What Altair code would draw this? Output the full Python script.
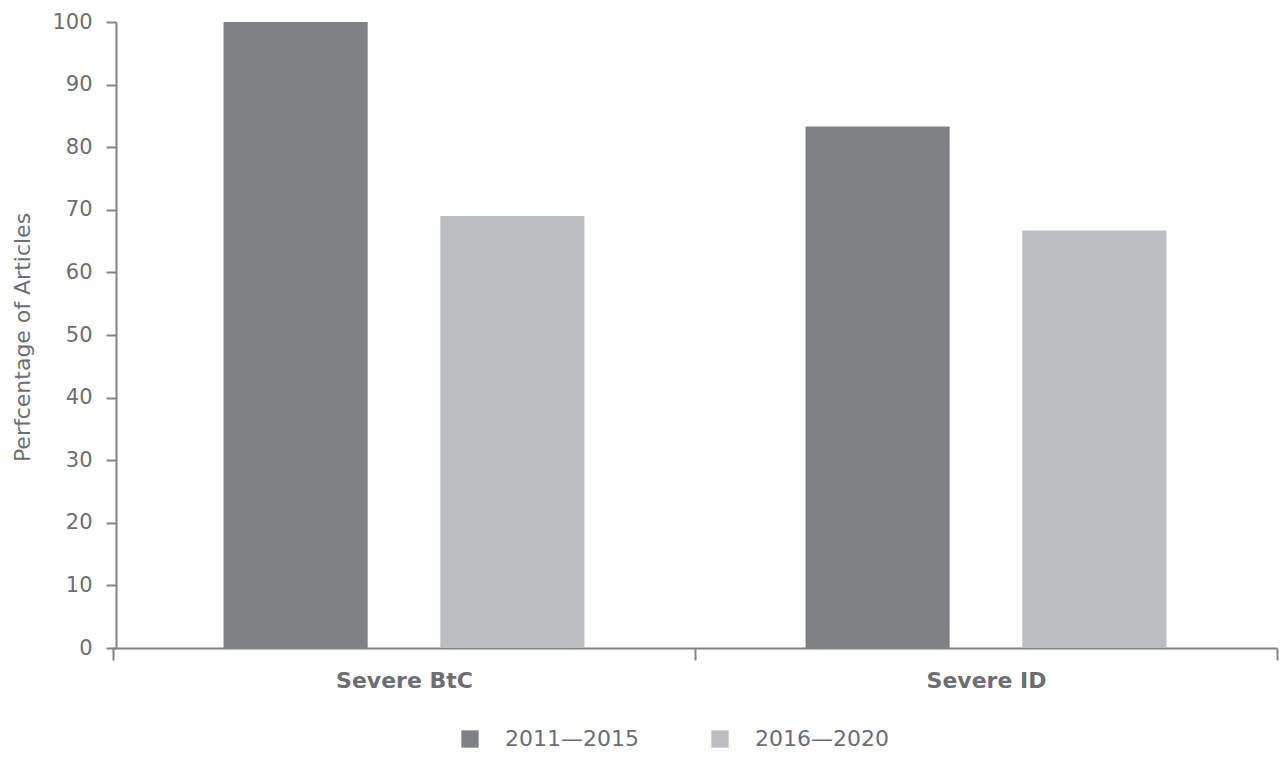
import altair as alt
import pandas as pd

categories = ["Severe BtC", "Severe ID"]
periods = ["2011\u20142015", "2016\u20142020"]
values_2011_2015 = [100.0, 83.3]
values_2016_2020 = [69.0, 66.7]
colors = ["#808184", "#bcbdc0"]

rows = []
for i, cat in enumerate(categories):
    rows.append({"category": cat, "period": periods[0], "value": values_2011_2015[i]})
    rows.append({"category": cat, "period": periods[1], "value": values_2016_2020[i]})
df = pd.DataFrame(rows)

text_color = "#6d6e71"
axis_color = "#808285"
font = "DejaVu Sans"

chart = alt.Chart(df).mark_bar().encode(
    x=alt.X(
        "category:N",
        sort=categories,
        scale=alt.Scale(paddingInner=0, paddingOuter=0, range=[-3, 1161]),
        axis=alt.Axis(
            title=None,
            labelAngle=0,
            labelFont=font,
            labelFontSize=22,
            labelFontWeight="bold",
            labelColor=text_color,
            labelPadding=10,
            tickBand="extent",
            tickSize=12,
            tickWidth=2,
            tickColor=axis_color,
            domainColor=axis_color,
            domainWidth=2,
            grid=False,
        ),
    ),
    xOffset=alt.XOffset(
        "period:N",
        sort=periods,
        scale=alt.Scale(paddingInner=0.335, paddingOuter=0.51),
    ),
    y=alt.Y(
        "value:Q",
        scale=alt.Scale(domain=[0, 100]),
        axis=alt.Axis(
            title="Perfcentage of Articles",
            values=list(range(0, 101, 10)),
            titleFont=font,
            titleFontSize=22,
            titleFontWeight="normal",
            titleColor=text_color,
            titlePadding=17,
            titleY=315,
            labelFont=font,
            labelFontSize=21,
            labelColor=text_color,
            labelPadding=14,
            tickSize=10,
            tickWidth=2,
            tickColor=axis_color,
            domainColor=axis_color,
            domainWidth=2,
            grid=False,
        ),
    ),
    color=alt.Color(
        "period:N",
        sort=periods,
        scale=alt.Scale(domain=periods, range=colors),
        legend=alt.Legend(
            title=None,
            orient="none",
            direction="horizontal",
            legendX=343,
            legendY=706,
            symbolType="square",
            symbolSize=300,
            symbolStrokeWidth=0,
            symbolOpacity=1,
            labelFont=font,
            labelFontSize=22,
            labelColor=text_color,
            labelOffset=24,
            columnPadding=70,
        ),
    ),
).properties(
    width=1164,
    height=626,
    autosize=alt.AutoSizeParams(type="none"),
    padding={"left": 116, "top": 22, "right": 2, "bottom": 114},
).configure(background="white").configure_view(strokeWidth=0, stroke="transparent")

chart.save("out.html", embed_options={"renderer": "svg", "actions": False})
